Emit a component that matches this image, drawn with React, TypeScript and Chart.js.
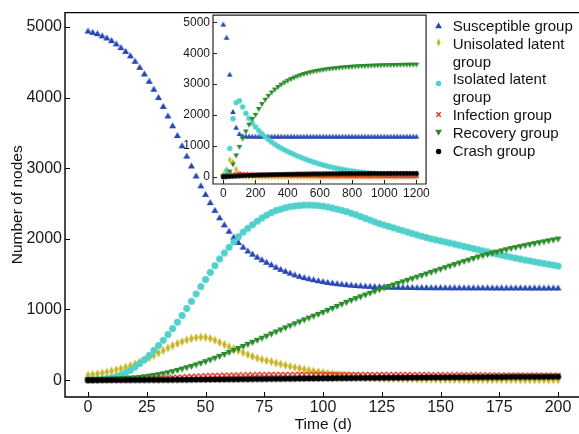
import React, { useEffect, useRef } from 'react';
import { Chart, registerables } from 'chart.js';

Chart.register(...registerables);

// ---------- data ----------
const seriesNames = [
  'Susceptible group',
  'Unisolated latent group',
  'Isolated latent group',
  'Infection group',
  'Recovery group',
  'Crash group',
];
const legendLines = [
  ['Susceptible group'],
  ['Unisolated latent', 'group'],
  ['Isolated latent', 'group'],
  ['Infection group'],
  ['Recovery group'],
  ['Crash group'],
];

const mainXTicks = [0, 25, 50, 75, 100, 125, 150, 175, 200];
const mainYTicks = [0, 1000, 2000, 3000, 4000, 5000];
const insetXTicks = [0, 200, 400, 600, 800, 1000, 1200];
const insetYTicks = [0, 1000, 2000, 3000, 4000, 5000];

const mainTime = [
  0, 2, 4, 6, 8, 10, 12, 14, 16, 18,
  20, 22, 24, 26, 28, 30, 32, 34, 36, 38,
  40, 42, 44, 46, 48, 50, 52, 54, 56, 58,
  60, 62, 64, 66, 68, 70, 72, 74, 76, 78,
  80, 82, 84, 86, 88, 90, 92, 94, 96, 98,
  100, 102, 104, 106, 108, 110, 112, 114, 116, 118,
  120, 122, 124, 126, 128, 130, 132, 134, 136, 138,
  140, 142, 144, 146, 148, 150, 152, 154, 156, 158,
  160, 162, 164, 166, 168, 170, 172, 174, 176, 178,
  180, 182, 184, 186, 188, 190, 192, 194, 196, 198,
  200,
];

const mainSusceptible = [
  4948, 4930, 4911, 4880, 4850, 4813, 4766, 4714, 4660, 4597,
  4520, 4434, 4340, 4237, 4125, 4007, 3881, 3746, 3607, 3469,
  3324, 3178, 3038, 2897, 2757, 2636, 2520, 2410, 2305, 2205,
  2115, 2030, 1955, 1890, 1835, 1790, 1748, 1710, 1675, 1640,
  1605, 1575, 1548, 1522, 1497, 1476, 1458, 1442, 1428, 1414,
  1402, 1390, 1380, 1372, 1364, 1357, 1351, 1346, 1341, 1337,
  1334, 1331, 1328, 1326, 1324, 1322, 1321, 1320, 1319, 1318,
  1317, 1317, 1316, 1316, 1315, 1315, 1315, 1314, 1314, 1314,
  1314, 1313, 1313, 1313, 1313, 1313, 1312, 1312, 1312, 1312,
  1312, 1312, 1312, 1312, 1311, 1311, 1311, 1311, 1311, 1311,
  1311,
];

const mainUnisolated = [
  70, 78, 88, 100, 113, 128, 145, 163, 183, 205,
  230, 258, 288, 318, 350, 385, 420, 455, 488, 518,
  545, 568, 588, 602, 610, 606, 590, 565, 535, 503,
  472, 445, 418, 390, 362, 335, 312, 293, 276, 260,
  243, 226, 210, 195, 180, 166, 153, 140, 128, 117,
  107, 97, 88, 80, 72, 65, 59, 53, 48, 43,
  39, 35, 31, 28, 25, 23, 21, 19, 17, 15,
  14, 13, 12, 11, 10, 9, 9, 8, 8, 7,
  7, 6, 6, 6, 5, 5, 5, 5, 4, 4,
  4, 4, 4, 3, 3, 3, 3, 3, 3, 3,
  2,
];

const mainIsolated = [
  0, 2, 6, 12, 22, 35, 52, 75, 105, 140,
  185, 235, 290, 350, 420, 490, 565, 645, 730, 820,
  915, 1015, 1115, 1220, 1325, 1425, 1525, 1620, 1715, 1800,
  1880, 1955, 2030, 2095, 2150, 2200, 2250, 2295, 2335, 2370,
  2400, 2420, 2440, 2455, 2465, 2472, 2477, 2478, 2476, 2470,
  2462, 2450, 2436, 2420, 2402, 2385, 2362, 2340, 2315, 2290,
  2265, 2240, 2215, 2195, 2175, 2155, 2135, 2115, 2095, 2075,
  2055, 2037, 2018, 2000, 1985, 1970, 1955, 1940, 1925, 1910,
  1893, 1878, 1862, 1845, 1830, 1815, 1800, 1785, 1770, 1755,
  1740, 1727, 1713, 1700, 1688, 1675, 1663, 1651, 1640, 1628,
  1615,
];

const mainInfection = [
  2, 2, 3, 3, 4, 5, 6, 7, 8, 10,
  12, 14, 16, 19, 22, 25, 28, 32, 36, 40,
  44, 48, 52, 55, 58, 61, 63, 65, 67, 69,
  70, 71, 72, 73, 74, 75, 76, 77, 77, 78,
  78, 79, 79, 79, 80, 80, 80, 80, 80, 80,
  80, 80, 80, 80, 80, 80, 79, 79, 79, 79,
  79, 78, 78, 78, 78, 77, 77, 77, 77, 76,
  76, 76, 76, 75, 75, 75, 75, 74, 74, 74,
  74, 73, 73, 73, 73, 72, 72, 72, 72, 71,
  71, 71, 71, 70, 70, 70, 70, 69, 69, 69,
  69,
];

const mainRecovery = [
  0, 1, 2, 3, 5, 7, 10, 13, 17, 22,
  26, 32, 40, 49, 59, 70, 83, 97, 113, 131,
  150, 168, 188, 209, 231, 254, 278, 303, 329, 356,
  384, 412, 441, 470, 499, 528, 557, 586, 615, 645,
  675, 704, 733, 762, 790, 818, 845, 872, 898, 924,
  950, 979, 1008, 1037, 1066, 1095, 1121, 1147, 1172, 1197,
  1222, 1248, 1273, 1296, 1318, 1340, 1362, 1384, 1406, 1428,
  1450, 1473, 1495, 1518, 1540, 1563, 1585, 1607, 1628, 1650,
  1671, 1692, 1714, 1735, 1753, 1771, 1789, 1806, 1823, 1839,
  1855, 1869, 1883, 1897, 1911, 1925, 1938, 1951, 1964, 1977,
  1990,
];

const mainCrash = [
  0, 0, 0, 0, 0, 1, 1, 1, 1, 1,
  2, 2, 2, 3, 3, 3, 4, 4, 5, 5,
  6, 6, 7, 7, 8, 8, 9, 10, 10, 11,
  12, 12, 13, 14, 14, 15, 16, 16, 17, 18,
  18, 19, 20, 20, 21, 22, 22, 23, 24, 24,
  25, 25, 26, 27, 27, 28, 28, 29, 30, 30,
  31, 31, 32, 32, 33, 34, 34, 35, 35, 36,
  36, 37, 37, 38, 38, 39, 39, 40, 40, 41,
  41, 41, 42, 42, 43, 43, 44, 44, 44, 45,
  45, 46, 46, 46, 47, 47, 47, 48, 48, 48,
  49,
];

const insetTime = [
  0, 20, 40, 60, 80, 100, 120, 140, 160, 180,
  200, 220, 240, 260, 280, 300, 320, 340, 360, 380,
  400, 420, 440, 460, 480, 500, 520, 540, 560, 580,
  600, 620, 640, 660, 680, 700, 720, 740, 760, 780,
  800, 820, 840, 860, 880, 900, 920, 940, 960, 980,
  1000, 1020, 1040, 1060, 1080, 1100, 1120, 1140, 1160, 1180,
  1200,
];

const insetSusceptible = [
  4948, 4520, 3324, 2115, 1605, 1402, 1334, 1320, 1317, 1316,
  1315, 1315, 1315, 1315, 1315, 1315, 1315, 1315, 1315, 1315,
  1315, 1315, 1315, 1315, 1315, 1315, 1315, 1315, 1315, 1315,
  1315, 1315, 1315, 1315, 1315, 1315, 1315, 1315, 1315, 1315,
  1315, 1315, 1315, 1315, 1315, 1315, 1315, 1315, 1315, 1315,
  1315, 1315, 1315, 1315, 1315, 1315, 1315, 1315, 1315, 1315,
  1315,
];

const insetUnisolated = [
  70, 230, 545, 472, 243, 107, 39, 14, 7, 4,
  2, 2, 2, 2, 1, 1, 1, 1, 1, 1,
  1, 1, 1, 1, 1, 1, 1, 1, 1, 1,
  1, 1, 1, 1, 1, 1, 1, 1, 1, 1,
  1, 1, 1, 1, 1, 1, 1, 1, 1, 1,
  1, 1, 1, 1, 1, 1, 1, 1, 1, 1,
  1,
];

const insetIsolated = [
  0, 185, 915, 1880, 2400, 2462, 2265, 2055, 1893, 1740,
  1615, 1495, 1390, 1295, 1205, 1125, 1050, 985, 925, 870,
  818, 768, 720, 675, 632, 590, 550, 512, 476, 442,
  410, 380, 352, 325, 300, 277, 255, 235, 216, 199,
  183, 168, 154, 141, 129, 118, 108, 99, 91, 84,
  77, 71, 65, 60, 55, 51, 47, 43, 40, 37,
  34,
];

const insetInfection = [
  2, 12, 44, 70, 78, 80, 79, 76, 74, 71,
  69, 67, 65, 63, 61, 59, 57, 55, 54, 52,
  51, 49, 48, 46, 45, 44, 43, 42, 41, 40,
  39, 38, 37, 36, 35, 35, 34, 33, 33, 32,
  32, 31, 31, 30, 30, 29, 29, 29, 28, 28,
  28, 27, 27, 27, 27, 26, 26, 26, 26, 26,
  25,
];

const insetRecovery = [
  0, 26, 150, 384, 675, 950, 1222, 1450, 1671, 1855,
  1990, 2180, 2340, 2480, 2605, 2715, 2810, 2895, 2970, 3037,
  3097, 3150, 3198, 3240, 3278, 3312, 3342, 3369, 3393, 3414,
  3433, 3450, 3466, 3481, 3494, 3506, 3517, 3527, 3536, 3544,
  3552, 3559, 3565, 3571, 3576, 3581, 3585, 3589, 3593, 3596,
  3599, 3602, 3605, 3607, 3609, 3611, 3613, 3615, 3616, 3617,
  3618,
];

const insetCrash = [
  0, 2, 6, 12, 18, 25, 31, 36, 41, 45,
  49, 53, 56, 59, 62, 65, 68, 70, 73, 75,
  77, 79, 81, 83, 85, 86, 88, 89, 91, 92,
  93, 94, 95, 96, 97, 98, 99, 100, 100, 101,
  102, 102, 103, 103, 104, 104, 105, 105, 105, 106,
  106, 106, 107, 107, 107, 107, 108, 108, 108, 108,
  108,
];

// ---------- styles ----------
const FONT = '"Liberation Sans", Arial, Helvetica, sans-serif';
const colors = ['#2746b4', '#c6b524', '#4fd0cb', '#e8271c', '#2a8a2a', '#000000'];
const shapes = ['up', 'diamond', 'circle', 'x', 'down', 'circle'];
const mainSizes: [number, number][] = [[7, 6], [4.8, 9], [7, 7], [5, 5], [7, 6], [6.2, 6.2]];
const insetSizes: [number, number][] = [[5.6, 5], [3.8, 7], [5.4, 5.4], [4, 4], [5.6, 5], [4.8, 4.8]];

function makeMarker(shape: string, color: string, w: number, h: number): HTMLCanvasElement {
  const c = document.createElement('canvas');
  c.width = Math.ceil(w) + 2;
  c.height = Math.ceil(h) + 2;
  const ctx = c.getContext('2d')!;
  const cx = c.width / 2;
  const cy = c.height / 2;
  ctx.fillStyle = color;
  ctx.strokeStyle = color;
  ctx.beginPath();
  if (shape === 'up') {
    ctx.moveTo(cx - w / 2, cy + h / 2);
    ctx.lineTo(cx, cy - h / 2);
    ctx.lineTo(cx + w / 2, cy + h / 2);
    ctx.closePath();
    ctx.fill();
  } else if (shape === 'down') {
    ctx.moveTo(cx - w / 2, cy - h / 2);
    ctx.lineTo(cx, cy + h / 2);
    ctx.lineTo(cx + w / 2, cy - h / 2);
    ctx.closePath();
    ctx.fill();
  } else if (shape === 'diamond') {
    ctx.moveTo(cx, cy - h / 2);
    ctx.lineTo(cx + w / 2, cy);
    ctx.lineTo(cx, cy + h / 2);
    ctx.lineTo(cx - w / 2, cy);
    ctx.closePath();
    ctx.fill();
  } else if (shape === 'circle') {
    ctx.arc(cx, cy, w / 2, 0, Math.PI * 2);
    ctx.fill();
  } else {
    ctx.lineWidth = 1.2;
    ctx.moveTo(cx - w / 2, cy - h / 2);
    ctx.lineTo(cx + w / 2, cy + h / 2);
    ctx.moveTo(cx + w / 2, cy - h / 2);
    ctx.lineTo(cx - w / 2, cy + h / 2);
    ctx.stroke();
  }
  return c;
}

function axesPlugin(id: string, openRight: boolean, tickLen: number, frameWidth: number, frameColor: string, fillBg: boolean) {
  return {
    id,
    beforeDraw(chart: any) {
      if (!fillBg) return;
      const { ctx, chartArea: a } = chart;
      ctx.save();
      ctx.fillStyle = '#ffffff';
      ctx.fillRect(a.left, a.top, a.right - a.left, a.bottom - a.top);
      ctx.restore();
    },
    afterDraw(chart: any) {
      const { ctx, chartArea: a } = chart;
      const xs = chart.scales.x;
      const ys = chart.scales.y;
      ctx.save();
      ctx.strokeStyle = frameColor;
      ctx.lineWidth = 1;
      ctx.beginPath();
      xs.ticks.forEach((t: any) => {
        const p = Math.round(xs.getPixelForValue(t.value)) + 0.5;
        ctx.moveTo(p, a.bottom);
        ctx.lineTo(p, a.bottom - tickLen);
      });
      ys.ticks.forEach((t: any) => {
        const p = Math.round(ys.getPixelForValue(t.value)) + 0.5;
        ctx.moveTo(a.left, p);
        ctx.lineTo(a.left + tickLen, p);
      });
      ctx.stroke();
      ctx.lineWidth = frameWidth;
      ctx.beginPath();
      const r = openRight ? chart.width : a.right;
      ctx.moveTo(r, a.top);
      ctx.lineTo(a.left, a.top);
      ctx.lineTo(a.left, a.bottom);
      ctx.lineTo(r, a.bottom);
      if (!openRight) ctx.closePath();
      ctx.stroke();
      ctx.restore();
    },
  };
}

function buildDatasets(time: number[], series: number[][], sizes: [number, number][]) {
  return series.map((vals, i) => ({
    label: seriesNames[i],
    data: time.map((t, k) => ({ x: t, y: vals[k] })),
    pointStyle: makeMarker(shapes[i], colors[i], sizes[i][0], sizes[i][1]) as any,
    pointRadius: 3,
    backgroundColor: colors[i],
    borderColor: colors[i],
    borderWidth: 0,
    showLine: false,
    order: series.length - i,
  }));
}

function LegendMarker({ i }: { i: number }) {
  const c = colors[i];
  const s = shapes[i];
  let el: React.ReactNode;
  if (s === 'up') el = <polygon points="0.2,6.2 3.6,0.2 7,6.2" fill={c} />;
  else if (s === 'down') el = <polygon points="0.2,0.8 3.6,6.8 7,0.8" fill={c} />;
  else if (s === 'diamond') el = <polygon points="3.6,-0.5 5.6,3.5 3.6,7.5 1.6,3.5" fill={c} />;
  else if (s === 'circle') el = <circle cx="3.6" cy="3.5" r="2.7" fill={c} />;
  else el = <path d="M1.4,1.3 L5.8,5.7 M5.8,1.3 L1.4,5.7" stroke={c} strokeWidth="1.3" />;
  return (
    <svg width="7.2" height="7" viewBox="0 0 7.2 7" style={{ overflow: 'visible', display: 'block' }}>
      {el}
    </svg>
  );
}

export default function App() {
  const mainRef = useRef<HTMLCanvasElement>(null);
  const insetRef = useRef<HTMLCanvasElement>(null);

  useEffect(() => {
    const tickColor = '#1a1a1a';
    const main = new Chart(mainRef.current!, {
      type: 'scatter',
      data: {
        datasets: buildDatasets(
          mainTime,
          [mainSusceptible, mainUnisolated, mainIsolated, mainInfection, mainRecovery, mainCrash],
          mainSizes,
        ) as any,
      },
      options: {
        responsive: false,
        animation: false,
        events: [],
        layout: { padding: { top: 10, right: 18.5, left: 0, bottom: 0 } },
        plugins: { legend: { display: false }, tooltip: { enabled: false } },
        scales: {
          x: {
            type: 'linear',
            min: -9.8,
            max: 210,
            grid: { display: false, drawTicks: false },
            border: { display: false },
            afterBuildTicks: (s: any) => {
              s.ticks = mainXTicks.map((v) => ({ value: v }));
            },
            afterFit: (s: any) => {
              s.height = 37;
            },
            ticks: {
              autoSkip: false,
              maxRotation: 0,
              padding: 1,
              color: tickColor,
              font: { family: FONT, size: 16 },
              callback: (v: any) => String(v),
            },
            title: {
              display: true,
              text: 'Time (d)',
              color: '#111',
              padding: { top: 0, bottom: 0 },
              font: { family: FONT, size: 15.5 },
            },
          },
          y: {
            type: 'linear',
            min: -239,
            max: 5202,
            grid: { display: false, drawTicks: false },
            border: { display: false },
            afterBuildTicks: (s: any) => {
              s.ticks = mainYTicks.map((v) => ({ value: v }));
            },
            afterFit: (s: any) => {
              s.width = 65;
            },
            ticks: {
              autoSkip: false,
              padding: 3,
              color: tickColor,
              font: { family: FONT, size: 16 },
              callback: (v: any) => String(v),
            },
            title: {
              display: true,
              text: 'Number of nodes',
              color: '#111',
              padding: { top: 8, bottom: 0 },
              font: { family: FONT, size: 15.5 },
            },
          },
        },
      },
      plugins: [axesPlugin('mainAxes', true, 5, 1.4, '#000', false)],
    });

    const inset = new Chart(insetRef.current!, {
      type: 'scatter',
      data: {
        datasets: buildDatasets(
          insetTime,
          [insetSusceptible, insetUnisolated, insetIsolated, insetInfection, insetRecovery, insetCrash],
          insetSizes,
        ) as any,
      },
      options: {
        responsive: false,
        animation: false,
        events: [],
        layout: { padding: { top: 10, right: 5, left: 0, bottom: 0 } },
        plugins: { legend: { display: false }, tooltip: { enabled: false } },
        scales: {
          x: {
            type: 'linear',
            min: -64,
            max: 1260,
            grid: { display: false, drawTicks: false },
            border: { display: false },
            afterBuildTicks: (s: any) => {
              s.ticks = insetXTicks.map((v) => ({ value: v }));
            },
            afterFit: (s: any) => {
              s.height = 21;
            },
            ticks: {
              autoSkip: false,
              maxRotation: 0,
              padding: 2,
              color: tickColor,
              font: { family: FONT, size: 12 },
              callback: (v: any) => String(v),
            },
          },
          y: {
            type: 'linear',
            min: -236,
            max: 5236,
            grid: { display: false, drawTicks: false },
            border: { display: false },
            afterBuildTicks: (s: any) => {
              s.ticks = insetYTicks.map((v) => ({ value: v }));
            },
            afterFit: (s: any) => {
              s.width = 43;
            },
            ticks: {
              autoSkip: false,
              padding: 3,
              color: tickColor,
              font: { family: FONT, size: 12 },
              callback: (v: any) => String(v),
            },
          },
        },
      },
      plugins: [axesPlugin('insetAxes', false, 4, 1.2, '#222', true)],
    });

    return () => {
      main.destroy();
      inset.destroy();
    };
  }, []);

  const markerY = [25, 42, 83, 114.5, 132.5, 151];
  let lineIndex = 0;
  const legendItems = legendLines.map((lines, i) => {
    const top = 16.7 + lineIndex * 17.9;
    lineIndex += lines.length;
    return (
      <React.Fragment key={i}>
        <div style={{ position: 'absolute', left: 435.4, top: markerY[i] - 3.5, width: 7.2, height: 7 }}>
          <LegendMarker i={i} />
        </div>
        <div
          style={{
            position: 'absolute',
            left: 452.7,
            top,
            fontFamily: FONT,
            fontSize: 15,
            lineHeight: '17.9px',
            color: '#111',
            whiteSpace: 'nowrap',
          }}
        >
          {lines.map((l, k) => (
            <div key={k}>{l}</div>
          ))}
        </div>
      </React.Fragment>
    );
  });

  return (
    <div
      style={{
        position: 'fixed',
        left: 0,
        top: 0,
        width: 579,
        height: 434,
        overflow: 'hidden',
        background: '#ffffff',
      }}
    >
      <canvas
        ref={mainRef}
        width={600}
        height={434}
        style={{ position: 'absolute', left: 0, top: 0, width: 600, height: 434 }}
      />
      <canvas
        ref={insetRef}
        width={262}
        height={200}
        style={{ position: 'absolute', left: 170, top: 5, width: 262, height: 200 }}
      />
      {legendItems}
    </div>
  );
}
